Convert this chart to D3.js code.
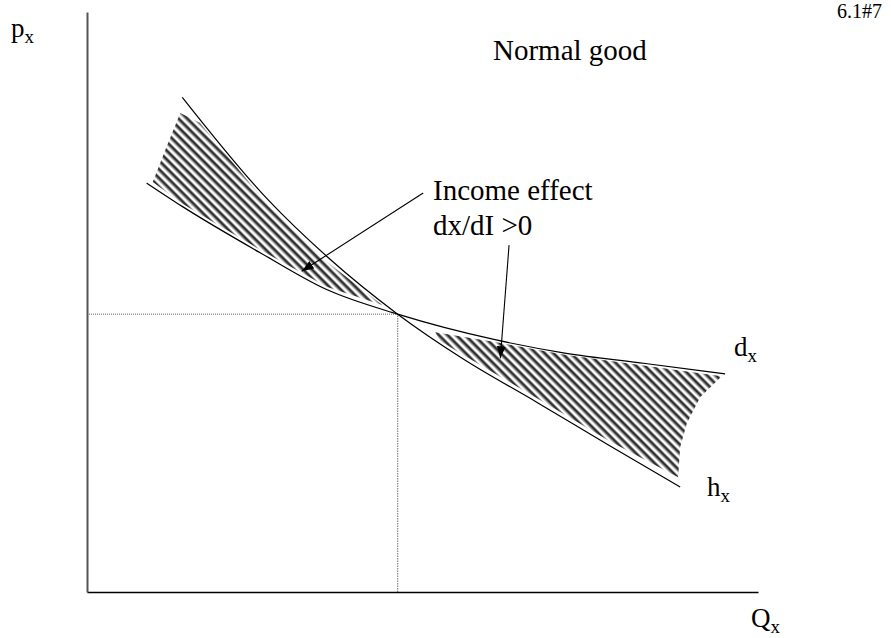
<!DOCTYPE html>
<html><head><meta charset="utf-8">
<script src="https://cdn.jsdelivr.net/npm/d3@7"></script>
<style>
html,body{margin:0;padding:0;background:#fff;}
svg{display:block;}
</style>
</head><body>
<svg id="chart" width="891" height="638"></svg>
<script>
// ---- data (Q, P) in chart units ----
const hicksianCurve = [[1.42,8.53],[2.70,6.76],[3.58,5.78],[4.63,4.79],[5.59,4.03],[6.72,3.26],[7.79,2.52],[8.84,1.81]];
const marshallCurve = [[0.89,7.05],[1.43,6.64],[2.58,5.85],[3.58,5.21],[4.63,4.79],[6.08,4.35],[7.12,4.12],[8.32,3.94],[9.51,3.76]];
const equilibrium = [4.63, 4.79];
const hatchLeft = [[1.39,8.26],[1.18,7.66],[0.98,7.07],[1.43,6.69],[1.98,6.31],[2.58,5.90],[3.58,5.26],[4.40,4.95],[3.58,5.69],[2.70,6.67],[1.68,8.09]];
const hatchRight = [[5.19,4.48],[6.08,4.31],[7.12,4.09],[8.32,3.90],[9.46,3.72],[9.14,3.36],[8.94,2.91],[8.84,2.50],[8.81,1.98],[7.79,2.60],[6.72,3.33],[5.59,4.10],[5.26,4.33]];
const arrowToLeft = [[5.01,6.88],[3.20,5.53]];
const arrowToRight = [[6.29,5.98],[6.16,4.03]];
const axisLabels = {y:["p","x"], x:["Q","x"]};
const curveLabels = {d:["d","x"], h:["h","x"]};
const titleText = "Normal good";
const noteLines = ["Income effect","dx/dI >0"];
const figureId = "6.1#7";

// ---- drawing ----
const FONT = "'Liberation Serif', 'Times New Roman', 'DejaVu Serif', serif";
const svg = d3.select("#chart");
const x = d3.scaleLinear().domain([0,10]).range([87,758]);
const y = d3.scaleLinear().domain([0,10]).range([592,12]);

const defs = svg.append("defs");
const P = 6.2;
const pat = defs.append("pattern").attr("id","hatch")
  .attr("patternUnits","userSpaceOnUse").attr("width",P).attr("height",P)
  .attr("patternTransform","rotate(45)");
pat.append("rect").attr("x",0).attr("y",0).attr("width",P).attr("height",2.4).attr("fill","#2e2e2e");
pat.append("rect").attr("x",0).attr("y",2.4).attr("width",P).attr("height",0.8).attr("fill","#9a9a9a");
pat.append("rect").attr("x",0).attr("y",P-0.8).attr("width",P).attr("height",0.8).attr("fill","#9a9a9a");
defs.append("marker").attr("id","arrow").attr("markerUnits","userSpaceOnUse")
  .attr("markerWidth",14).attr("markerHeight",12).attr("viewBox","0 -6 14 12")
  .attr("refX",12).attr("refY",0).attr("orient","auto")
  .append("path").attr("d","M0,-4.5L12,0L0,4.5Z").attr("fill","#000");

const poly = d3.line().x(d=>x(d[0])).y(d=>y(d[1])).curve(d3.curveLinearClosed);
svg.append("path").attr("d",poly(hatchLeft)).attr("fill","url(#hatch)");
svg.append("path").attr("d",poly(hatchRight)).attr("fill","url(#hatch)");

// guide lines
svg.append("line").attr("x1",x(0)).attr("x2",x(equilibrium[0])).attr("y1",y(equilibrium[1])).attr("y2",y(equilibrium[1]))
  .attr("stroke","#666").attr("stroke-width",1).attr("stroke-dasharray","1,1");
svg.append("line").attr("x1",x(equilibrium[0])).attr("x2",x(equilibrium[0])).attr("y1",y(0)).attr("y2",y(equilibrium[1]))
  .attr("stroke","#888").attr("stroke-width",1.2).attr("stroke-dasharray","1.5,1");

// curves
const line = d3.line().x(d=>x(d[0])).y(d=>y(d[1])).curve(d3.curveMonotoneX);
svg.append("path").attr("d",line(hicksianCurve)).attr("fill","none").attr("stroke","#000").attr("stroke-width",1.2);
svg.append("path").attr("d",line(marshallCurve)).attr("fill","none").attr("stroke","#000").attr("stroke-width",1.2);

// axes
const xAxis = d3.axisBottom(x).tickValues([]).tickSizeOuter(0);
const yAxis = d3.axisLeft(y).tickValues([]).tickSizeOuter(0);
svg.append("g").attr("transform",`translate(0,${y(0)})`).call(xAxis)
  .select(".domain").attr("stroke","#000").attr("stroke-width",1.6);
svg.append("g").attr("transform",`translate(${x(0)},0)`).call(yAxis)
  .select(".domain").attr("stroke","#555").attr("stroke-width",2);

// arrows
[arrowToLeft, arrowToRight].forEach(a=>{
  svg.append("line").attr("x1",x(a[0][0])).attr("y1",y(a[0][1])).attr("x2",x(a[1][0])).attr("y2",y(a[1][1]))
    .attr("stroke","#000").attr("stroke-width",1.1).attr("marker-end","url(#arrow)");
});

// text
function addText(str, px, py, size){
  return svg.append("text").attr("x",px).attr("y",py)
    .attr("font-family",FONT).style("font-family",FONT)
    .attr("font-size",size).attr("fill","#000").text(str);
}
function subLabel(lbl, px, py, size, subSize){
  const t = svg.append("text").attr("x",px).attr("y",py)
    .attr("font-family",FONT).style("font-family",FONT).attr("font-size",size).attr("fill","#000");
  t.append("tspan").text(lbl[0]);
  t.append("tspan").attr("dy",6).attr("font-size",subSize).text(lbl[1]);
}
subLabel(axisLabels.y, 11, 37, 27, 19);
subLabel(axisLabels.x, 751, 627, 27, 19);
subLabel(curveLabels.d, 734, 356, 27, 19);
subLabel(curveLabels.h, 707, 496, 27, 19);

addText(titleText, 493, 60, 29);
addText(noteLines[0], 433, 200, 29);
addText(noteLines[1], 433, 235, 29);
addText(figureId, 837, 18, 20);
</script>
</body></html>
